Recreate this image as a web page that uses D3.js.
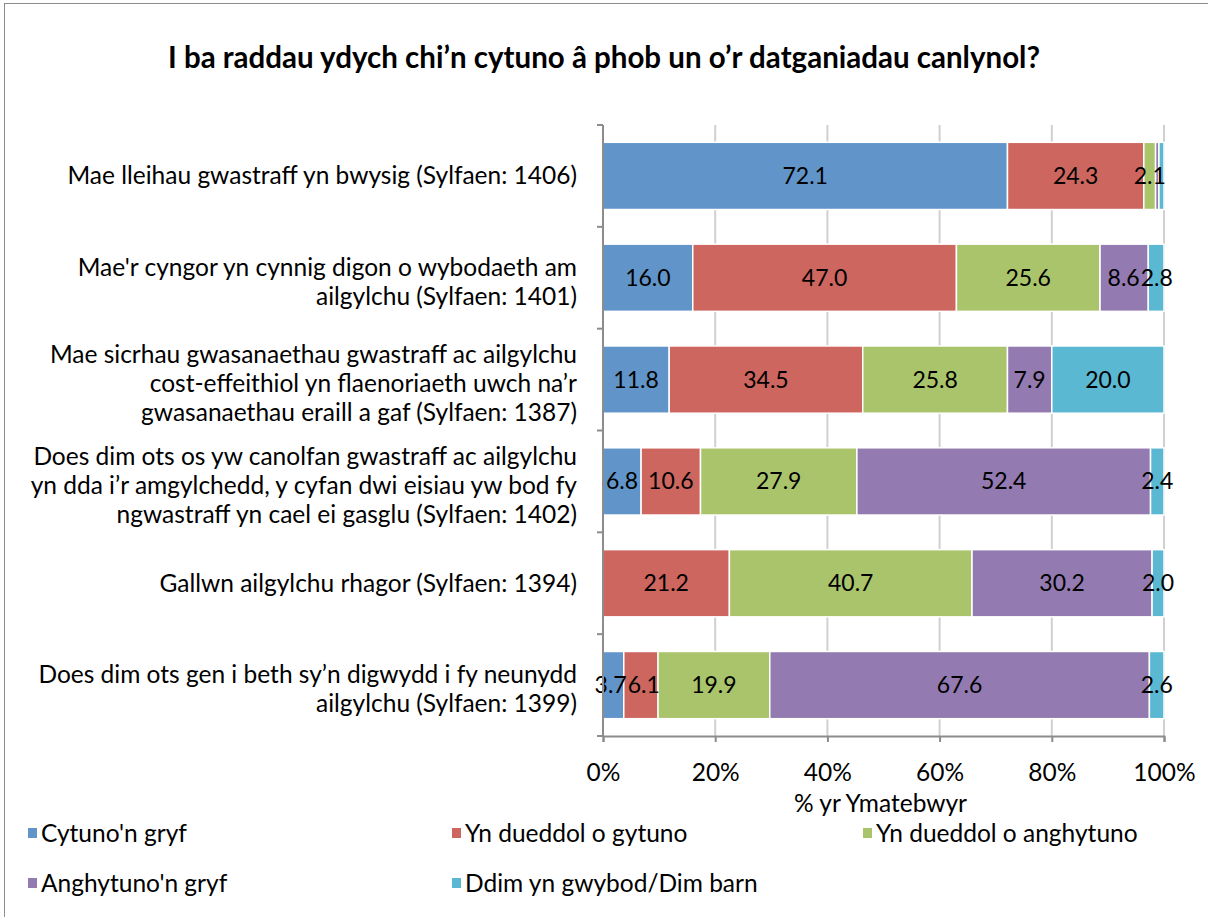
<!DOCTYPE html>
<html>
<head>
<meta charset="utf-8">
<script src="https://cdn.jsdelivr.net/npm/d3@7"></script>
<style>
  body { margin: 0; background: #fff; }
  svg { display: block; font-family: Lato, "Open Sans", sans-serif; }
</style>
</head>
<body>
<div id="chart"></div>
<script>
// category labels, one array of lines per row
const categories = [
    ["Mae lleihau gwastraff yn bwysig (Sylfaen: 1406)"],
    ["Mae'r cyngor yn cynnig digon o wybodaeth am", "ailgylchu (Sylfaen: 1401)"],
    ["Mae sicrhau gwasanaethau gwastraff ac ailgylchu", "cost-effeithiol yn flaenoriaeth uwch na\u2019r", "gwasanaethau eraill a gaf (Sylfaen: 1387)"],
    ["Does dim ots os yw canolfan gwastraff ac ailgylchu", "yn dda i\u2019r amgylchedd, y cyfan dwi eisiau yw bod fy", "ngwastraff yn cael ei gasglu (Sylfaen: 1402)"],
    ["Gallwn ailgylchu rhagor (Sylfaen: 1394)"],
    ["Does dim ots gen i beth sy\u2019n digwydd i fy neunydd", "ailgylchu (Sylfaen: 1399)"]
];

const seriesNames = ["Cytuno'n gryf", "Yn dueddol o gytuno", "Yn dueddol o anghytuno", "Anghytuno'n gryf", "Ddim yn gwybod/Dim barn"];
const seriesColors = ["#6195c9", "#cd665f", "#aac46c", "#937ab0", "#5bb8d2"];

const cytunoGryf     = [72.1, 16.0, 11.8, 6.8, 0, 3.7];
const tueddolGytuno  = [24.3, 47.0, 34.5, 10.6, 21.2, 6.1];
const tueddolAnghyt  = [2.1, 25.6, 25.8, 27.9, 40.7, 19.9];
const anghytunoGryf  = [0.6, 8.6, 7.9, 52.4, 30.2, 67.6];
const ddimGwybod     = [0.9, 2.8, 20.0, 2.4, 2.0, 2.6];

const xTicks = [0, 0.2, 0.4, 0.6, 0.8, 1];

const title = "I ba raddau ydych chi\u2019n cytuno \u00e2 phob un o\u2019r datganiadau canlynol?";
const xTitle = "% yr Ymatebwyr";

// build rows for d3.stack
const allSeries = [cytunoGryf, tueddolGytuno, tueddolAnghyt, anghytunoGryf, ddimGwybod];
const rows = categories.map((c, i) => {
    const r = { idx: i };
    seriesNames.forEach((s, j) => r[s] = allSeries[j][i]);
    return r;
});

const W = 1208, H = 917;
const FS = 24.5;
const margin = { top: 125, right: 44, bottom: 181, left: 603 };
const plotW = W - margin.left - margin.right,
      plotH = H - margin.top - margin.bottom;

const svg = d3.select("#chart").append("svg")
    .attr("width", W).attr("height", H);

// outer frame
svg.append("rect")
    .attr("x", 4.5).attr("y", 3.5)
    .attr("width", W + 10).attr("height", H + 10)
    .attr("fill", "none").attr("stroke", "#8c8c8c").attr("stroke-width", 1);

svg.append("text")
    .attr("x", 604).attr("y", 68)
    .attr("text-anchor", "middle")
    .attr("font-size", 29.5).attr("font-weight", "bold")
    .text(title);

const g = svg.append("g").attr("transform", `translate(${margin.left},${margin.top})`);

const x = d3.scaleLinear().domain([0, 1]).range([0, plotW]);
const y = d3.scaleBand().domain(d3.range(categories.length)).range([0, plotH])
    .paddingInner(0.34).paddingOuter(0.17);

// gridlines
g.append("g").selectAll("line").data(xTicks.slice(1)).join("line")
    .attr("x1", d => x(d)).attr("x2", d => x(d))
    .attr("y1", 0).attr("y2", plotH)
    .attr("stroke", "#d0d0d0").attr("stroke-width", 2);

const stack = d3.stack().keys(seriesNames).offset(d3.stackOffsetExpand);
const stacked = stack(rows);

const layer = g.append("g").selectAll("g").data(stacked).join("g")
    .attr("fill", (d, i) => seriesColors[i]);

layer.selectAll("rect").data(d => d).join("rect")
    .attr("x", d => x(d[0]))
    .attr("width", d => Math.max(0, x(d[1]) - x(d[0])))
    .attr("y", d => y(d.data.idx))
    .attr("height", y.bandwidth())
    .attr("stroke", "#fff").attr("stroke-width", 1.5);

// data labels (value >= 1 only), then nudge apart any that collide in a row
const labelData = [];
stacked.forEach(s => s.forEach(d => {
    const v = d.data[s.key];
    if (v >= 1) labelData.push({ row: d.data.idx, cx: (x(d[0]) + x(d[1])) / 2, v: v });
}));
const labels = g.append("g").selectAll("text").data(labelData).join("text")
    .attr("x", d => d.cx)
    .attr("y", d => y(d.row) + y.bandwidth() / 2)
    .attr("dy", "0.35em")
    .attr("text-anchor", "middle")
    .attr("font-size", 23).attr("fill", "#000")
    .text(d => d.v.toFixed(1));
labels.each(function (d) { d.w = this.getComputedTextLength(); });
d3.groups(labelData, d => d.row).forEach(([r, arr]) => {
    for (let k = 1; k < arr.length; k++) {
        const a = arr[k - 1], b = arr[k];
        const ov = (a.cx + a.w / 2 + 1) - (b.cx - b.w / 2);
        if (ov > 0) { a.cx -= ov / 2; b.cx += ov / 2; }
    }
});
labels.attr("x", d => d.cx);

// left axis with ticks between categories
g.append("line").attr("x1", 0).attr("x2", 0).attr("y1", 0).attr("y2", plotH)
    .attr("stroke", "#8c8c8c").attr("stroke-width", 2);
g.append("g").selectAll("line").data(d3.range(categories.length + 1)).join("line")
    .attr("x1", -6).attr("x2", 0)
    .attr("y1", d => d * y.step()).attr("y2", d => d * y.step())
    .attr("stroke", "#8c8c8c").attr("stroke-width", 2);

// bottom axis
const xAxis = g.append("g").attr("transform", `translate(0,${plotH})`)
    .call(d3.axisBottom(x).tickValues(xTicks).tickFormat(d3.format(".0%")).tickSize(6).tickPadding(22));
xAxis.select(".domain").attr("stroke", "#8c8c8c").attr("stroke-width", 2);
xAxis.selectAll(".tick line").attr("stroke", "#8c8c8c").attr("stroke-width", 2);
xAxis.selectAll(".tick text").attr("font-size", FS).attr("font-family", "Lato, sans-serif").attr("fill", "#000");

g.append("text")
    .attr("x", plotW / 2 - 3).attr("y", plotH + 76)
    .attr("text-anchor", "middle").attr("font-size", FS)
    .text(xTitle);

// category labels
categories.forEach((lines, i) => {
    const cy = y(i) + y.bandwidth() / 2 + (lines.length > 1 ? 4 : 0);
    const lh = 29;
    const t = g.append("text")
        .attr("text-anchor", "end").attr("font-size", FS);
    lines.forEach((ln, k) => {
        t.append("tspan")
            .attr("x", -26)
            .attr("y", cy + (k - (lines.length - 1) / 2) * lh)
            .attr("dy", "0.35em")
            .text(ln);
    });
});

// legend
const legPos = [[28, 833], [452, 833], [863, 833], [28, 883], [452, 883]];
const leg = svg.append("g").selectAll("g").data(seriesNames).join("g")
    .attr("transform", (d, i) => `translate(${legPos[i][0]},${legPos[i][1]})`);
leg.append("rect").attr("x", 0).attr("y", -5).attr("width", 9).attr("height", 10)
    .attr("fill", (d, i) => seriesColors[i]);
leg.append("text").attr("x", 13).attr("dy", "0.35em").attr("font-size", FS).text(d => d);
</script>
</body>
</html>
